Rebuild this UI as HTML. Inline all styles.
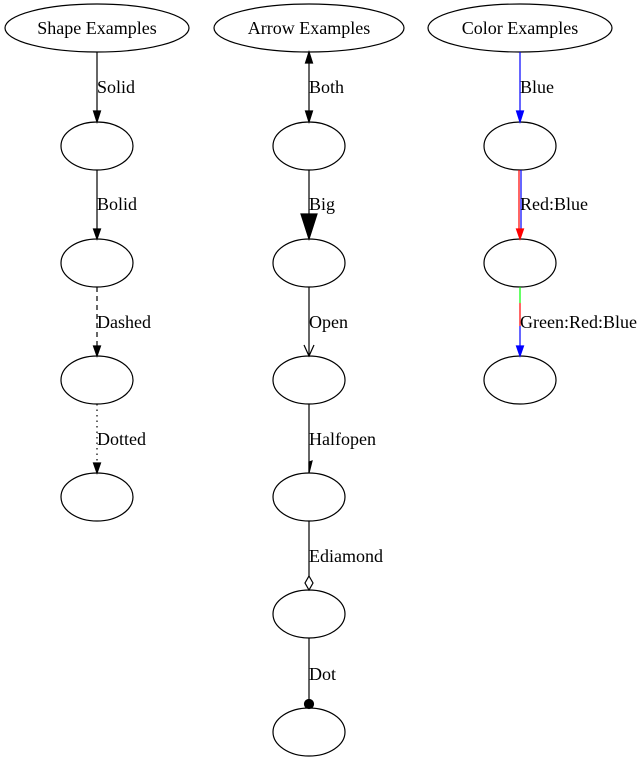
<!DOCTYPE html>
<html><head><meta charset="utf-8"><style>
html,body{margin:0;padding:0;background:#fff;}
svg{display:block;}
text{font-family:"Liberation Serif",serif;font-size:18px;fill:#000;}
</style></head><body>
<svg width="643" height="763" viewBox="0 0 643 763" xmlns="http://www.w3.org/2000/svg">
<g fill="none" stroke="#000" stroke-width="1.2">
<ellipse cx="97" cy="28" rx="92" ry="24"/>
<ellipse cx="309" cy="28" rx="95" ry="24"/>
<ellipse cx="520" cy="28" rx="92" ry="24"/>
<ellipse cx="97" cy="146" rx="36" ry="24"/>
<ellipse cx="97" cy="263" rx="36" ry="24"/>
<ellipse cx="97" cy="380" rx="36" ry="24"/>
<ellipse cx="97" cy="497" rx="36" ry="24"/>
<ellipse cx="309" cy="146" rx="36" ry="24"/>
<ellipse cx="309" cy="263" rx="36" ry="24"/>
<ellipse cx="309" cy="380" rx="36" ry="24"/>
<ellipse cx="309" cy="497" rx="36" ry="24"/>
<ellipse cx="309" cy="614" rx="36" ry="24"/>
<ellipse cx="309" cy="732" rx="36" ry="24"/>
<ellipse cx="520" cy="146" rx="36" ry="24"/>
<ellipse cx="520" cy="263" rx="36" ry="24"/>
<ellipse cx="520" cy="380" rx="36" ry="24"/>
</g>
<g stroke="#000" stroke-width="1.2" fill="#000">
<line x1="97" y1="52" x2="97" y2="112"/>
<polygon points="93.5,111 100.5,111 97,122"/>
<line x1="97" y1="170" x2="97" y2="229"/>
<polygon points="93.5,229 100.5,229 97,239"/>
<line x1="97" y1="287" x2="97" y2="346" stroke-dasharray="5,4"/>
<polygon points="93.5,346 100.5,346 97,356"/>
<line x1="97" y1="404" x2="97" y2="463" stroke-dasharray="1.5,4"/>
<polygon points="93.5,463 100.5,463 97,473"/>
<line x1="309" y1="62" x2="309" y2="112"/>
<polygon points="305.5,63 312.5,63 309,52"/>
<polygon points="305.5,111 312.5,111 309,122"/>
<line x1="309" y1="170" x2="309" y2="214"/>
<polygon points="301,214 317,214 309,239"/>
<line x1="309" y1="287" x2="309" y2="356"/>
<polyline points="304,345 309,356 314,345" fill="none"/>
<line x1="309" y1="404" x2="309" y2="473"/>
<polygon points="309,473 309,462 312,461" />
<line x1="309" y1="521" x2="309" y2="576"/>
<polygon points="309,576 313,583 309,590 305,583" fill="#fff"/>
<line x1="309" y1="638" x2="309" y2="700"/>
<circle cx="309" cy="704" r="4.5"/>
</g>
<g stroke-width="1.2">
<line x1="520" y1="52" x2="520" y2="112" stroke="#00f"/>
<polygon points="516.5,111 523.5,111 520,122" fill="#00f" stroke="#00f"/>
<line x1="519" y1="170" x2="519" y2="229" stroke="#f00"/>
<line x1="521" y1="170" x2="521" y2="229" stroke="#00f"/>
<polygon points="516.5,229 523.5,229 520,239" fill="#f00" stroke="#f00"/>
<line x1="520" y1="287" x2="520" y2="303" stroke="#0f0"/>
<line x1="520" y1="303" x2="520" y2="326" stroke="#f00"/>
<line x1="520" y1="326" x2="520" y2="346" stroke="#00f"/>
<polygon points="516.5,346 523.5,346 520,356" fill="#00f" stroke="#00f"/>
</g>
<text x="97" y="34" text-anchor="middle">Shape Examples</text>
<text x="309" y="34" text-anchor="middle">Arrow Examples</text>
<text x="520" y="34" text-anchor="middle">Color Examples</text>
<text x="97" y="93">Solid</text>
<text x="97" y="210">Bolid</text>
<text x="97" y="328">Dashed</text>
<text x="97" y="445">Dotted</text>
<text x="309" y="93">Both</text>
<text x="309" y="210">Big</text>
<text x="309" y="328">Open</text>
<text x="309" y="445">Halfopen</text>
<text x="309" y="562">Ediamond</text>
<text x="309" y="680">Dot</text>
<text x="520" y="93">Blue</text>
<text x="520" y="210">Red:Blue</text>
<text x="520" y="328">Green:Red:Blue</text>
</svg>
</body></html>
